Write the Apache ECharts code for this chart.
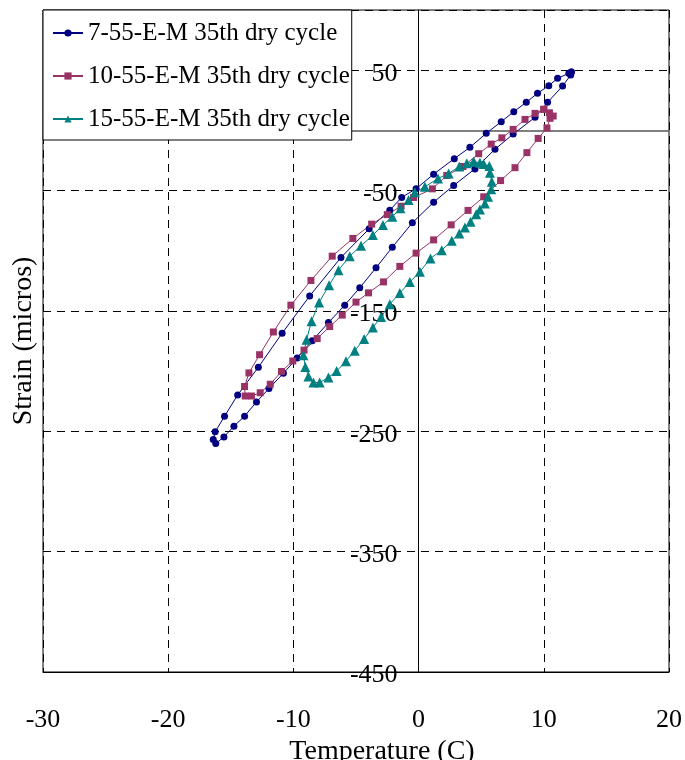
<!DOCTYPE html>
<html>
<head>
<meta charset="utf-8">
<script src="https://cdn.jsdelivr.net/npm/echarts@6/dist/echarts.min.js"></script>
<style>
  html, body { margin: 0; padding: 0; background: #fff; }
  #chart { width: 685px; height: 760px; }
</style>
</head>
<body>
<div id="chart"></div>
<script>
// Temperature (C) vs strain (micros) loops, 35th dry cycle
const seriesNames = [
  '7-55-E-M 35th dry cycle',
  '10-55-E-M 35th dry cycle',
  '15-55-E-M 35th dry cycle'
];

// [temperature, strain] pairs in measurement order
const loop7 = [
  [12.2, 48.5], [12.0, 47.4], [11.1, 43.2], [10.4, 37.1], [9.5, 30.8], [8.6, 23.3],
  [7.6, 15.5], [6.6, 7.2], [5.4, -2.5], [4.1, -14.1], [2.85, -23.5], [1.2, -36.4],
  [-0.2, -48.5], [-1.35, -55.7], [-2.3, -66.3], [-3.95, -81.8], [-6.2, -105.6],
  [-8.7, -137.6], [-10.9, -168.5], [-12.8, -196.8], [-14.45, -219.8], [-15.5, -237.5],
  [-16.25, -250.5], [-16.4, -256.9], [-16.2, -260.2],
  [-15.55, -254.7], [-14.75, -245.8], [-13.9, -237.5], [-12.95, -225.6], [-11.95, -214.5],
  [-10.8, -201.8], [-9.7, -189.2], [-8.5, -174.8], [-7.2, -159.7], [-5.9, -145.2],
  [-4.7, -130.8], [-3.4, -114.2], [-2.1, -97.1], [-0.5, -76.8], [1.2, -59.7],
  [2.8, -45.8], [4.5, -32.0], [6.1, -15.7], [7.55, -3.1], [9.3, 10.8], [10.3, 23.3],
  [11.5, 36.8], [12.15, 46.0], [12.2, 48.5]
];

const loop10 = [
  [10.0, 17.5], [9.3, 14.1], [8.5, 9.1], [7.55, 0.8], [6.65, -6.2], [5.8, -11.4],
  [4.8, -19.4], [3.55, -30.0], [2.25, -37.5], [1.1, -48.6], [-0.4, -55.8], [-1.4, -63.0],
  [-2.5, -70.0], [-3.75, -77.9], [-5.25, -89.8], [-6.9, -104.5], [-8.6, -124.7],
  [-10.2, -145.2], [-11.6, -167.5], [-12.7, -186.4], [-13.55, -201.5], [-13.9, -212.8],
  [-13.85, -220.7],
  [-13.35, -220.7], [-12.65, -218.0], [-11.85, -210.9], [-10.95, -200.3], [-10.05, -191.6],
  [-9.15, -182.6], [-8.1, -173.0], [-7.1, -163.0], [-6.1, -153.5], [-5.0, -142.7],
  [-4.0, -135.0], [-2.8, -125.9], [-1.5, -113.0], [-0.2, -102.0], [1.2, -91.0],
  [2.6, -78.5], [3.95, -66.5], [5.2, -55.2], [6.55, -41.7], [7.7, -31.0], [8.65, -18.5],
  [9.55, -6.7], [10.25, 2.0], [10.5, 10.0], [10.75, 11.9], [10.45, 14.6], [10.0, 17.5]
];

const loop15 = [
  [4.4, -26.1], [3.85, -27.4], [3.25, -30.0], [2.4, -35.8], [1.55, -40.0], [0.5, -46.9],
  [-0.3, -51.5], [-0.8, -57.9], [-1.45, -64.8], [-2.1, -71.8], [-2.85, -78.7],
  [-3.65, -87.0], [-4.6, -95.9], [-5.5, -104.5], [-6.4, -116.2], [-7.15, -128.6],
  [-7.95, -143.0], [-8.55, -158.5], [-8.95, -174.0], [-9.2, -186.8], [-9.05, -196.5],
  [-8.8, -204.5], [-8.4, -209.5], [-7.9, -209.5],
  [-7.2, -205.3], [-6.55, -200.0], [-5.8, -191.8], [-5.1, -183.0], [-4.35, -173.3],
  [-3.65, -163.8], [-3.0, -155.0], [-2.3, -144.4], [-1.5, -135.2], [-0.7, -126.0],
  [0.1, -117.5], [0.95, -106.4], [1.85, -99.5], [2.65, -91.8], [3.25, -85.6],
  [3.7, -80.6], [4.15, -76.0], [4.6, -69.6], [4.9, -65.7], [5.3, -60.7], [5.55, -55.2],
  [5.8, -49.0], [5.85, -42.7], [5.7, -35.2], [5.65, -29.7], [5.2, -28.0], [4.9, -26.9],
  [4.4, -26.1]
];

const xTicks = { min: -30, max: 20, step: 10 };
const yTicks = { min: -450, max: 100, step: 100 };

const FONT = "'Liberation Serif', 'Times New Roman', serif";
const dash = { color: '#000', width: 1, type: [8, 6] };

// plot box in pixels
const PLOT = { left: 43, top: 10, width: 626, height: 662 };
// the strain axis is drawn through temperature = 0
const yAxisShift = -PLOT.width * (0 - xTicks.min) / (xTicks.max - xTicks.min);

function loopSeries(name, data, color, symbol, size) {
  return {
    name: name,
    type: 'line',
    data: data,
    symbol: symbol,
    symbolSize: size,
    showSymbol: true,
    lineStyle: { color: color, width: 1 },
    itemStyle: { color: color },
    emphasis: { disabled: true },
    animation: false
  };
}

const s7 = loopSeries(seriesNames[0], loop7, '#000080', 'circle', 7);
// solid zero-strain line across the plot, kept beneath the legend box
s7.markLine = {
  silent: true,
  z: 1,
  symbol: 'none',
  label: { show: false },
  lineStyle: { color: '#555', width: 1.5, type: 'solid' },
  data: [{ yAxis: 0 }],
  animation: false
};

const option = {
  animation: false,
  backgroundColor: '#fff',
  textStyle: { fontFamily: FONT },
  grid: {
    left: PLOT.left, top: PLOT.top, width: PLOT.width, height: PLOT.height,
    containLabel: false,
    outerBoundsMode: 'none',
    show: true, borderColor: '#000', borderWidth: 1, backgroundColor: 'transparent'
  },
  legend: {
    orient: 'vertical',
    left: 43, top: 10,
    z: 10,
    padding: [10, 2, 8, 9],
    itemGap: 17,
    itemWidth: 30,
    itemHeight: 9,
    backgroundColor: '#fff',
    borderColor: '#000',
    borderWidth: 1,
    textStyle: { fontFamily: FONT, fontSize: 25, color: '#000', lineHeight: 26 },
    data: seriesNames
  },
  xAxis: {
    type: 'value',
    min: xTicks.min, max: xTicks.max, interval: xTicks.step,
    position: 'bottom',
    axisLine: { onZero: false, lineStyle: { color: '#000' } },
    axisTick: { show: false },
    axisLabel: { color: '#000', fontFamily: FONT, fontSize: 26, margin: 35 },
    splitLine: { show: true, lineStyle: dash },
    name: 'Temperature (C)',
    nameLocation: 'middle',
    nameGap: 56,
    nameTextStyle: { color: '#000', fontFamily: FONT, fontSize: 28, padding: [0, 0, 0, 52] }
  },
  yAxis: {
    type: 'value',
    min: yTicks.min, max: yTicks.max, interval: yTicks.step,
    position: 'left',
    offset: yAxisShift,
    axisLine: { onZero: false, lineStyle: { color: '#000' } },
    axisTick: { show: false },
    axisLabel: {
      color: '#000', fontFamily: FONT, fontSize: 26, margin: 21,
      showMaxLabel: false,
      formatter: function (v) { return '{t|' + v + '}'; },
      rich: {
        t: { fontFamily: FONT, fontSize: 26, color: '#000', padding: [7, 0, 0, 0] }
      }
    },
    splitLine: { show: true, lineStyle: dash },
    name: 'Strain (micros)',
    nameLocation: 'middle',
    nameGap: 381,
    nameTextStyle: { color: '#000', fontFamily: FONT, fontSize: 28 }
  },
  series: [
    s7,
    loopSeries(seriesNames[1], loop10, '#993366', 'rect', 7),
    loopSeries(seriesNames[2], loop15, '#008080', 'triangle', 10)
  ]
};

const chart = echarts.init(document.getElementById('chart'), null, { renderer: 'canvas' });
chart.setOption(option);
</script>
</body>
</html>
